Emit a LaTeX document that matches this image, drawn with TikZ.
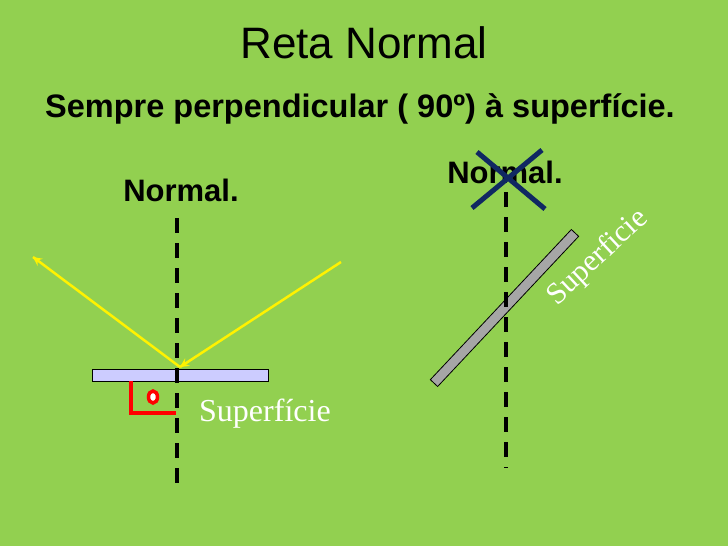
\documentclass[tikz,border=0pt]{standalone}
\usepackage{fontspec}
\setmainfont{Liberation Sans}
\newfontfamily\serifa{Liberation Serif}
\definecolor{fundo}{RGB}{146,208,80}
\definecolor{lilas}{RGB}{204,204,255}
\definecolor{cinza}{RGB}{166,166,166}
\definecolor{azul}{RGB}{16,40,98}
\tikzset{seta/.style = {decoration={markings, mark=at position 1 with {\arrow[scale=1.1]{stealth}}}, postaction={decorate}}}
\tikzset{normal/.style = {line width=3.5pt, dash pattern=on 15pt off 10pt},
         raio/.style = {yellow, line width=2.5pt},
         texto/.style = {inner sep=0pt, anchor=base}}
\usetikzlibrary{calc,shapes.geometric,
                 decorations.markings}

\begin{document}
\begin{tikzpicture}[x=1pt,y=-1pt]
\fill [fundo] (0,0) rectangle (728,546);
\node [texto] (titulo) at (364,58) {\fontsize{44}{48}\selectfont Reta Normal};
\node [texto] (sub) at (360,117) {\fontsize{32.5}{36}\selectfont\bfseries Sempre perpendicular ( 90º) à superfície.};
% esquerda
\node [texto] (nesq) at (181,201) {\fontsize{31}{36}\selectfont\bfseries Normal.};
\node [draw, fill=lilas, line width=0.8pt, minimum width=176, minimum height=12, inner sep=0pt] (plano) at (180,375) {};
\coordinate (ntopo) at (177,218);
\coordinate (nbase) at (177,492);
\coordinate (inc) at (180,367);
\coordinate (ini) at (341,262);
\coordinate (fim) at (33,257);
\draw [normal] (ntopo) -- (nbase);
\draw [raio, seta] (ini) -- (inc);
\draw [raio, seta] (inc) -- (fim);
\draw [red, line width=4pt] (plano.south -| 131,0) |- (176,413);
\node [ellipse, draw=red, fill=white, line width=3.5pt, minimum width=9, minimum height=12, inner sep=0pt] (grau) at (153,397) {};
\node [texto, white, anchor=base west] (sesq) at (199,421) {\serifa\fontsize{32}{36}\selectfont Superfície};
% direita
\node [texto] (ndir) at (505,183) {\fontsize{31}{36}\selectfont\bfseries Normal.};
\node [draw, fill=cinza, line width=0.8pt, minimum width=206, minimum height=10, inner sep=0pt, rotate=46.8] (barra) at (504.5,308) {};
\node [white, rotate=43, inner sep=0pt] (sdir) at (598,258) {\serifa\fontsize{30.5}{36}\selectfont Superficie};
\coordinate (rtopo) at (506,192);
\coordinate (rbase) at (506,468);
\draw [normal] (rtopo) -- (rbase);
\coordinate (x1) at (477,152);
\coordinate (x2) at (545,209);
\coordinate (x3) at (472,208);
\coordinate (x4) at (542,150);
\draw [azul, line width=5pt] (x1) -- (x2);
\draw [azul, line width=5pt] (x3) -- (x4);
\end{tikzpicture}
\end{document}
